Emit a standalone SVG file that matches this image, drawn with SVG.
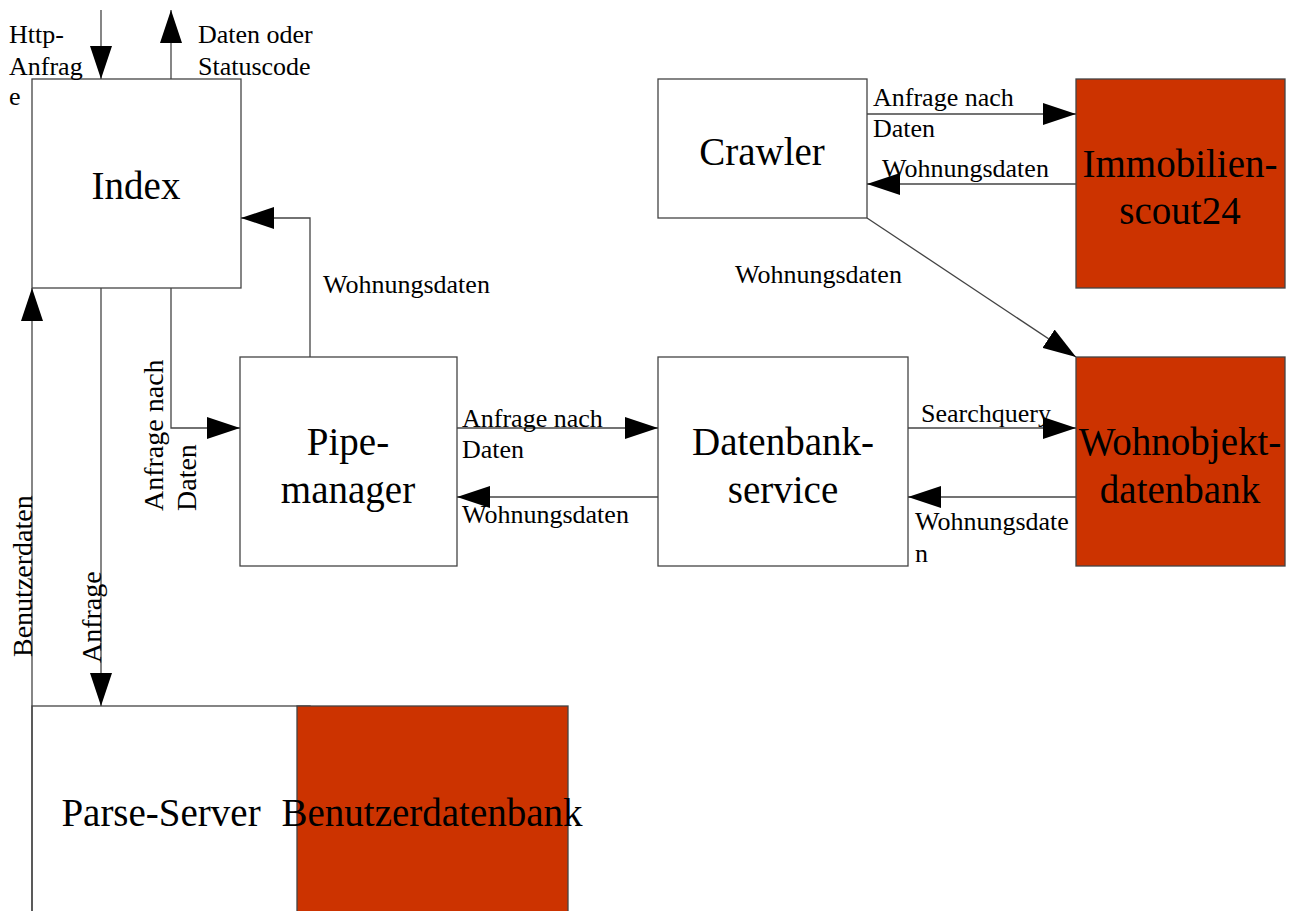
<svg xmlns="http://www.w3.org/2000/svg" width="1292" height="911" viewBox="0 0 1292 911">
<defs>
<style>
.box{fill:#fff;stroke:#444;stroke-width:1.3}
.db{fill:#CC3300;stroke:#444;stroke-width:1.3}
.lbl{font-family:"Liberation Serif","Times New Roman",serif;font-size:26px;fill:#000}
.vl{font-family:"Liberation Serif","Times New Roman",serif;font-size:28px;fill:#000}
.nt{font-family:"Liberation Serif","Times New Roman",serif;font-size:39px;fill:#000;text-anchor:middle}
.con{fill:none;stroke:#444;stroke-width:1.3}
</style>
<marker id="ah" markerUnits="userSpaceOnUse" markerWidth="33" markerHeight="22" refX="33" refY="11" orient="auto">
<path d="M0,0 L33,11 L0,22 z" fill="#000"/>
</marker>
</defs>
<rect width="1292" height="911" fill="#fff"/>

<g id="parse-server">
<rect class="box" x="32" y="706" width="278" height="220"/>
<text class="nt" x="161" y="826">Parse-Server</text>
</g>
<g id="benutzerdatenbank">
<rect class="db" x="297" y="706" width="271" height="220"/>
<text class="nt" x="432" y="826">Benutzerdatenbank</text>
</g>

<g id="index">
<rect class="box" x="32" y="79" width="209" height="209"/>
<text class="nt" x="136" y="199">Index</text>
</g>
<g id="crawler">
<rect class="box" x="658" y="79" width="209" height="139"/>
<text class="nt" x="762" y="165">Crawler</text>
</g>
<g id="immobilienscout24">
<rect class="db" x="1076" y="79" width="209" height="209"/>
<text class="nt" x="1180" y="177">Immobilien-</text>
<text class="nt" x="1180" y="224">scout24</text>
</g>
<g id="pipemanager">
<rect class="box" x="240" y="357" width="217" height="209"/>
<text class="nt" x="348" y="455">Pipe-</text>
<text class="nt" x="348" y="503">manager</text>
</g>
<g id="datenbankservice">
<rect class="box" x="658" y="357" width="250" height="209"/>
<text class="nt" x="783" y="455">Datenbank-</text>
<text class="nt" x="783" y="503">service</text>
</g>
<g id="wohnobjektdatenbank">
<rect class="db" x="1076" y="357" width="209" height="209"/>
<text class="nt" x="1180" y="455">Wohnobjekt-</text>
<text class="nt" x="1180" y="503">datenbank</text>
</g>

<g id="connectors">
<line class="con" x1="101" y1="10" x2="101" y2="79" marker-end="url(#ah)"/>
<line class="con" x1="171" y1="79" x2="171" y2="10" marker-end="url(#ah)"/>
<line class="con" x1="101" y1="288" x2="101" y2="706" marker-end="url(#ah)"/>
<line class="con" x1="32" y1="911" x2="32" y2="288" marker-end="url(#ah)"/>
<path class="con" d="M171,288 L171,428 L240,428" marker-end="url(#ah)"/>
<path class="con" d="M310,357 L310,218 L241,218" marker-end="url(#ah)"/>
<line class="con" x1="457" y1="428" x2="658" y2="428" marker-end="url(#ah)"/>
<line class="con" x1="658" y1="497" x2="457" y2="497" marker-end="url(#ah)"/>
<line class="con" x1="908" y1="428" x2="1076" y2="428" marker-end="url(#ah)"/>
<line class="con" x1="1076" y1="497" x2="908" y2="497" marker-end="url(#ah)"/>
<line class="con" x1="867" y1="114" x2="1076" y2="114" marker-end="url(#ah)"/>
<line class="con" x1="1076" y1="184" x2="867" y2="184" marker-end="url(#ah)"/>
<line class="con" x1="867" y1="218" x2="1076" y2="357" marker-end="url(#ah)"/>

<text class="lbl" x="9" y="43">Http-</text>
<text class="lbl" x="9" y="75">Anfrag</text>
<text class="lbl" x="9" y="105">e</text>
<text class="lbl" x="198" y="43">Daten oder</text>
<text class="lbl" x="198" y="75">Statuscode</text>
<text class="lbl" x="323" y="293">Wohnungsdaten</text>
<text class="vl" transform="translate(163,511) rotate(-90)">Anfrage nach</text>
<text class="vl" transform="translate(196,511) rotate(-90)">Daten</text>
<text class="vl" transform="translate(32,657) rotate(-90)">Benutzerdaten</text>
<text class="vl" transform="translate(101,663) rotate(-90)">Anfrage</text>
<text class="lbl" x="462" y="427">Anfrage nach</text>
<text class="lbl" x="462" y="458">Daten</text>
<text class="lbl" x="462" y="523">Wohnungsdaten</text>
<text class="lbl" x="921" y="422">Searchquery</text>
<text class="lbl" x="915" y="530">Wohnungsdate</text>
<text class="lbl" x="915" y="562">n</text>
<text class="lbl" x="873" y="106">Anfrage nach</text>
<text class="lbl" x="873" y="137">Daten</text>
<text class="lbl" x="882" y="177">Wohnungsdaten</text>
<text class="lbl" x="735" y="283">Wohnungsdaten</text>
</g>
</svg>
